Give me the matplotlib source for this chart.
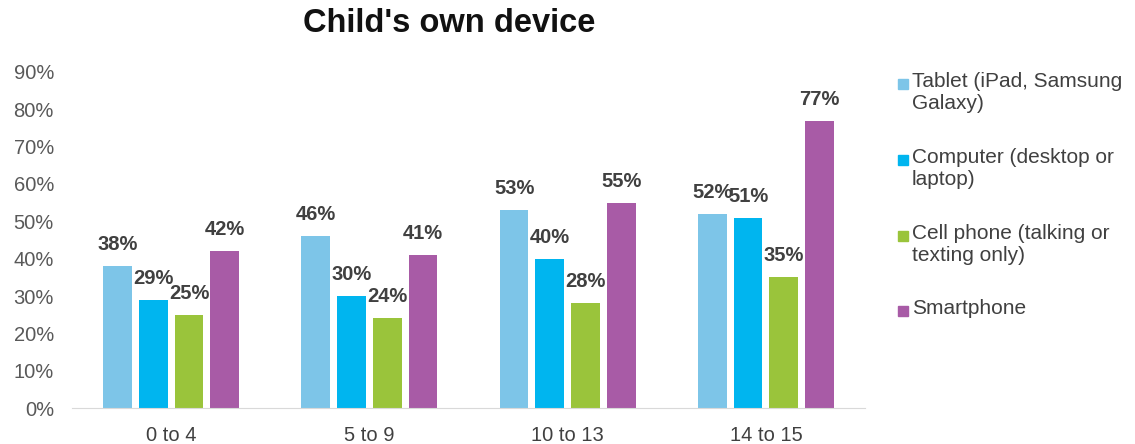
import numpy as np
import matplotlib
matplotlib.use("Agg")
import matplotlib.pyplot as plt
from matplotlib.patches import Rectangle

plt.rcParams["font.family"] = ["Liberation Sans", "DejaVu Sans"]

age_groups = ["0 to 4", "5 to 9", "10 to 13", "14 to 15"]
series_names = [
    "Tablet (iPad, Samsung\nGalaxy)",
    "Computer (desktop or\nlaptop)",
    "Cell phone (talking or\ntexting only)",
    "Smartphone",
]
tablet = [38, 46, 53, 52]
computer = [29, 30, 40, 51]
cell_phone = [25, 24, 28, 35]
smartphone = [42, 41, 55, 77]
y_ticks = [0, 10, 20, 30, 40, 50, 60, 70, 80, 90]

colors = ["#7DC5E8", "#00B5EF", "#9AC43B", "#A85BA6"]
all_series = [tablet, computer, cell_phone, smartphone]

W, H = 1135, 444
fig = plt.figure(figsize=(W / 100, H / 100), dpi=100)
ax = fig.add_axes([72 / W, 36 / H, 793 / W, 336 / H])

x = np.arange(len(age_groups))
bar_w = 0.145
step = 0.18
for i, (vals, col) in enumerate(zip(all_series, colors)):
    pos = x + (i - 1.5) * step
    ax.bar(pos, vals, width=bar_w, color=col, zorder=2)
    for px, v in zip(pos, vals):
        ax.annotate(f"{v}%", (px, v), xytext=(0, 15.5), textcoords="offset points",
                    ha="center", va="center", fontsize=14.5, fontweight="bold",
                    color="#404040", annotation_clip=False)

ax.set_xlim(-0.5, len(age_groups) - 0.5)
ax.set_ylim(0, 90)
ax.set_yticks(y_ticks)
ax.set_yticklabels([f"{t}%" for t in y_ticks])
ax.set_xticks(x)
ax.set_xticklabels(age_groups)
ax.tick_params(axis="y", length=0, pad=13, labelsize=14.5, labelcolor="#595959")
ax.tick_params(axis="x", length=0, pad=13, labelsize=14.5, labelcolor="#404040")
for side in ["top", "right", "left"]:
    ax.spines[side].set_visible(False)
ax.spines["bottom"].set_color("#D9D9D9")

fig.text(449 / W, 1 - 24 / H, "Child's own device", ha="center", va="center",
         fontsize=23.5, fontweight="bold", color="#111111")

# legend drawn by hand so the square sits on the first line
leg_y = [84, 160, 236, 311]
for name, col, ly in zip(series_names, colors, leg_y):
    fig.add_artist(Rectangle((898 / W, 1 - (ly + 5) / H), 10 / W, 10 / H,
                             transform=fig.transFigure, color=col))
    fig.text(912 / W, 1 - (ly - 12) / H, name, ha="left", va="top",
             fontsize=15, color="#404040", linespacing=1.2)

fig.savefig("out.png", dpi=100)
